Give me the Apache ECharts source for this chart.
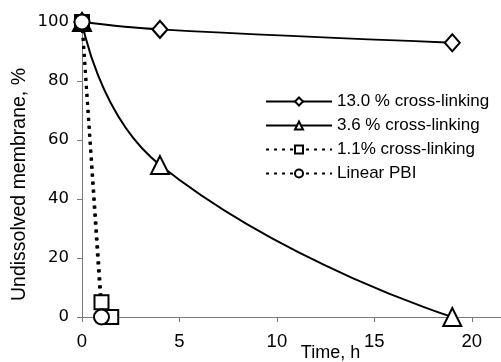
<!DOCTYPE html>
<html>
<head>
<meta charset="utf-8">
<script src="https://cdn.jsdelivr.net/npm/echarts@6/dist/echarts.min.js"></script>
<style>
  html, body { margin: 0; padding: 0; background: #fff; }
  #chart { width: 501px; height: 362px; }
</style>
</head>
<body>
<div id="chart"></div>
<script>
  // series names
  const seriesNames = ['13.0 % cross-linking', '3.6 % cross-linking', '1.1% cross-linking', 'Linear PBI']
  // [time h, undissolved %]
  const cross130 = [[0, 100], [4, 97.5], [19, 93]]
  const cross36 = [[0, 100], [4, 51.5], [19, 0]]
  const cross11 = [[0, 100], [1, 5], [1.5, 0]]
  const linearPBI = [[0, 100], [1, 0]]
  const xTicks = [0, 5, 10, 15, 20]
  const yTicks = [0, 20, 40, 60, 80, 100]

  const FONT = 'Liberation Sans, Arial, sans-serif'
  const AXIS_COLOR = '#7a7a7a'

  const myChart = echarts.init(document.getElementById('chart'))

  // 空心标记 + 黑线
  function mkSeries(name, data, symbol, size, dashed, smooth) {
    return {
      name: name,
      type: 'line',
      data: data,
      symbol: symbol,
      symbolSize: size,
      smooth: smooth,
      showAllSymbol: true,
      lineStyle: { color: '#000', width: dashed ? 3 : 2, type: dashed ? [3, 5] : 'solid' },
      itemStyle: { color: '#fff', borderColor: '#000', borderWidth: 2 },
      emphasis: { disabled: true },
      animation: false
    }
  }

  const option = {
    backgroundColor: '#fff',
    animation: false,
    grid: { left: 82, right: 0, top: 22, bottom: 45, containLabel: false, outerBoundsMode: 'none' },
    legend: {
      orient: 'vertical',
      left: 265,
      top: 93,
      padding: 0,
      itemWidth: 66,
      itemHeight: 10,
      itemGap: 7,
      textStyle: { fontFamily: FONT, fontSize: 17, color: '#000' },
      data: seriesNames
    },
    xAxis: [{
      type: 'value',
      min: 0,
      max: 21.5,
      interval: 5,
      name: 'Time, h',
      nameLocation: 'middle',
      nameGap: 27,
      nameMoveOverlap: false,
      nameTextStyle: { fontFamily: FONT, fontSize: 18, color: '#000', padding: [0, 0, 0, 78] },
      axisLine: { show: true, onZero: false, lineStyle: { color: AXIS_COLOR, width: 1 } },
      axisTick: { show: true, inside: false, length: 5, lineStyle: { color: AXIS_COLOR } },
      axisLabel: {
        fontFamily: FONT, fontSize: 18.5, color: '#000', margin: 15,
        formatter: v => xTicks.includes(v) ? String(v) : '',
        showMaxLabel: false
      },
      splitLine: { show: false }
    }, {
      type: 'value',
      position: 'top',
      min: 0,
      max: 21.5,
      axisLine: { show: true, lineStyle: { color: AXIS_COLOR, width: 1 } },
      axisTick: { show: false },
      axisLabel: { show: false },
      splitLine: { show: false }
    }],
    yAxis: {
      type: 'value',
      min: 0,
      max: 100,
      interval: 20,
      name: 'Undissolved membrane, %',
      nameLocation: 'middle',
      nameGap: 52,
      nameMoveOverlap: false,
      nameTextStyle: { fontFamily: FONT, fontSize: 19.5, color: '#000', padding: [0, 30, 0, 0] },
      axisLine: { show: true, lineStyle: { color: AXIS_COLOR, width: 1 } },
      axisTick: { show: true, length: 5, lineStyle: { color: AXIS_COLOR } },
      axisLabel: {
        fontFamily: 'DejaVu Sans, sans-serif', fontSize: 16.5, color: '#000', margin: 13,
        formatter: v => yTicks.includes(v) ? String(v) : ''
      },
      splitLine: { show: false }
    },
    series: [
      mkSeries(seriesNames[0], cross130, 'diamond', [15, 17], false, 0.4),
      mkSeries(seriesNames[1], cross36, 'triangle', 18, false, 0.5),
      mkSeries(seriesNames[2], cross11, 'rect', 14, true, false),
      mkSeries(seriesNames[3], linearPBI, 'circle', 15, true, false)
    ]
  }

  myChart.setOption(option)
</script>
</body>
</html>
